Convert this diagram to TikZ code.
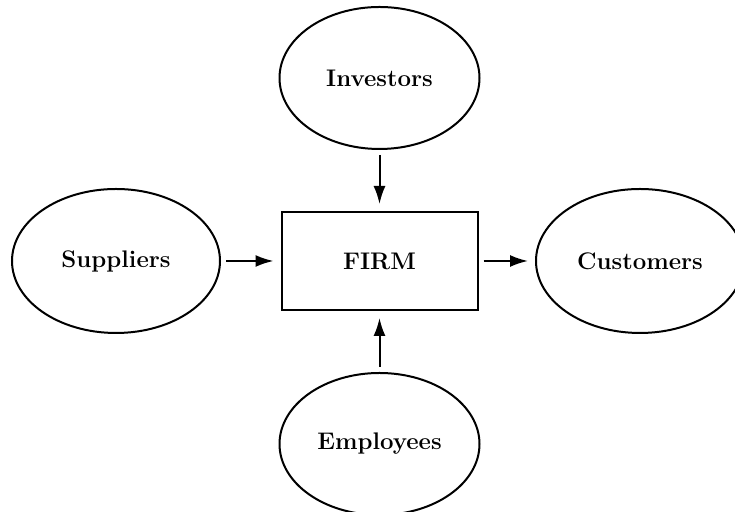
\documentclass[tikz,border=0pt]{standalone}
\usetikzlibrary{arrows.meta}
\usetikzlibrary{positioning}
\usetikzlibrary{shapes.geometric}

\begin{document}
\begin{tikzpicture}[x=0.5pt,y=0.5pt,>={Latex[length=9pt,width=6pt]},shorten >=3.5pt,shorten <=2.5pt,line width=1pt,on grid,
  party node/.style={ellipse,draw,inner sep=0pt,minimum width=100pt,minimum height=71pt,font=\large\bfseries},
  firm node/.style={rectangle,draw,inner sep=0pt,minimum width=98pt,minimum height=49pt,font=\large\bfseries}]

  \useasboundingbox (0,0) rectangle (735,512);

  \node[firm node] (firm) at (379.5,251) {FIRM};
  \node[party node] (investors) [above=91.5pt of firm] {Investors};
  \node[party node] (employees) [below=91.5pt of firm] {Employees};
  \node[party node,minimum width=104pt,minimum height=72pt] (suppliers) [left=131.75pt of firm] {Suppliers};
  \node[party node,minimum width=104pt,minimum height=72pt] (customers) [right=130.25pt of firm] {Customers};

  \path[->]
    (investors) edge (firm)
    (suppliers) edge (firm)
    (employees) edge (firm)
    (firm) edge (customers);

\end{tikzpicture}
\end{document}
